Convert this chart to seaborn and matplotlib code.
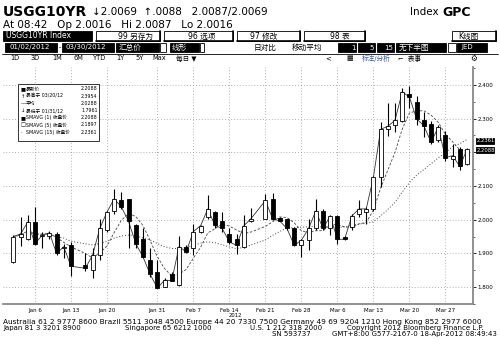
import numpy as np
import pandas as pd
import matplotlib
matplotlib.use("Agg")
import matplotlib.pyplot as plt
import seaborn as sns
from matplotlib.patches import Rectangle

# ---------------- data ----------------
dates = ["2012-01-03", "2012-01-04", "2012-01-05", "2012-01-06", "2012-01-09", "2012-01-10",
         "2012-01-11", "2012-01-12", "2012-01-13", "2012-01-17", "2012-01-18", "2012-01-19",
         "2012-01-20", "2012-01-23", "2012-01-24", "2012-01-25", "2012-01-26", "2012-01-27",
         "2012-01-30", "2012-01-31", "2012-02-01", "2012-02-02", "2012-02-03", "2012-02-06",
         "2012-02-07", "2012-02-08", "2012-02-09", "2012-02-10", "2012-02-13", "2012-02-14",
         "2012-02-15", "2012-02-16", "2012-02-17", "2012-02-21", "2012-02-22", "2012-02-23",
         "2012-02-24", "2012-02-27", "2012-02-28", "2012-02-29", "2012-03-01", "2012-03-02",
         "2012-03-05", "2012-03-06", "2012-03-07", "2012-03-08", "2012-03-09", "2012-03-12",
         "2012-03-13", "2012-03-14", "2012-03-15", "2012-03-16", "2012-03-19", "2012-03-20",
         "2012-03-21", "2012-03-22", "2012-03-23", "2012-03-26", "2012-03-27", "2012-03-28",
         "2012-03-29", "2012-03-30"]
opens = [1.876, 1.948, 1.944, 1.993, 1.952, 1.952, 1.959, 1.915, 1.924, 1.865, 1.851, 1.895,
         1.969, 2.027, 2.059, 2.060, 1.983, 1.944, 1.880, 1.846, 1.800, 1.838, 1.807, 1.920,
         1.915, 1.964, 2.008, 2.023, 1.995, 1.959, 1.942, 1.920, 1.995, 2.003, 2.060, 2.006,
         2.001, 1.974, 1.924, 1.939, 1.974, 2.026, 1.974, 2.011, 1.949, 1.979, 2.018, 2.024,
         2.032, 2.126, 2.270, 2.282, 2.294, 2.373, 2.348, 2.297, 2.285, 2.235, 2.250, 2.180,
         2.211, 2.165]
highs = [1.956, 2.009, 2.013, 2.037, 1.964, 1.966, 1.964, 1.929, 1.935, 1.900, 1.915, 2.003,
         2.027, 2.091, 2.082, 2.062, 1.988, 1.974, 1.915, 1.880, 1.826, 1.846, 1.952, 1.925,
         1.988, 1.985, 2.074, 2.027, 2.024, 1.974, 1.959, 2.013, 2.034, 2.076, 2.079, 2.008,
         2.003, 1.979, 1.944, 2.003, 2.062, 2.032, 2.013, 2.013, 1.952, 2.018, 2.057, 2.037,
         2.130, 2.291, 2.347, 2.347, 2.391, 2.3954, 2.368, 2.318, 2.294, 2.282, 2.263, 2.224,
         2.215, 2.212]
lows = [1.871, 1.923, 1.939, 1.925, 1.915, 1.944, 1.895, 1.885, 1.832, 1.847, 1.826, 1.880,
        1.964, 2.018, 2.032, 1.915, 1.915, 1.885, 1.831, 1.7961, 1.800, 1.817, 1.802, 1.900,
        1.894, 1.962, 2.003, 1.974, 1.965, 1.929, 1.897, 1.915, 1.993, 2.001, 1.998, 1.995,
        1.969, 1.923, 1.890, 1.910, 1.969, 1.969, 1.956, 1.929, 1.940, 1.969, 2.008, 1.988,
        2.027, 2.097, 2.247, 2.259, 2.290, 2.332, 2.282, 2.244, 2.226, 2.230, 2.174, 2.155,
        2.148, 2.163]
closes = [1.950, 1.958, 1.993, 1.929, 1.954, 1.961, 1.900, 1.920, 1.862, 1.856, 1.895, 1.974,
          2.023, 2.062, 2.038, 1.995, 1.929, 1.890, 1.838, 1.797, 1.821, 1.819, 1.920, 1.905,
          1.965, 1.982, 2.032, 1.983, 1.974, 1.934, 1.924, 1.982, 2.003, 2.057, 2.003, 1.996,
          1.974, 1.924, 1.939, 1.974, 2.026, 1.974, 2.011, 1.942, 1.942, 2.011, 2.032, 2.032,
          2.126, 2.268, 2.277, 2.295, 2.379, 2.364, 2.299, 2.279, 2.230, 2.274, 2.184, 2.190,
          2.158, 2.2088]

tick_dates = ["2012-01-06", "2012-01-13", "2012-01-20", "2012-01-31", "2012-02-07", "2012-02-14",
              "2012-02-21", "2012-02-28", "2012-03-06", "2012-03-13", "2012-03-20", "2012-03-27"]
tick_labels = ["Jan 6", "Jan 13", "Jan 20", "Jan 31", "Feb 7", "Feb 14",
               "Feb 21", "Feb 28", "Mar 6", "Mar 13", "Mar 20", "Mar 27"]
y_ticks = [1.8, 1.9, 2.0, 2.1, 2.2, 2.3, 2.4]

legend_names = ["最新价", "最高于 03/20/12", "平均", "最低于 01/31/12",
                "SMAVG (1) 收盘价", "SMAVG (5) 收盘价", "SMAVG (15) 收盘价"]
legend_values = ["2.2088", "2.3954", "2.0288", "1.7961", "2.2088", "2.1897", "2.2361"]
highlight_values = [2.2361, 2.2088]

# ---------------- figure ----------------
sns.set_style("white")
plt.rcParams["font.family"] = ["DejaVu Sans", "Noto Sans CJK SC"]

W, H = 500, 358
fig = plt.figure(figsize=(W / 100, H / 100), dpi=100)
fig.patch.set_facecolor("white")


def fx(x):
    return x / W


def fy(y):
    return 1 - y / H


def T(x, y, s, size=5.5, color="black", ha="left", weight="normal", **kw):
    fig.text(fx(x), fy(y), s, fontsize=size, color=color, ha=ha, va="center",
             weight=weight, **kw)


def box(x0, y0, x1, y1, fc="black", ec="black", lw=0.6, shadow=False):
    fig.patches.append(Rectangle((fx(x0), fy(y1)), fx(x1) - fx(x0), fy(y0) - fy(y1),
                                 transform=fig.transFigure, fc=fc, ec=ec, lw=lw))
    if shadow:
        fig.lines.append(plt.Line2D([fx(x0), fx(x1), fx(x1)], [fy(y1), fy(y1), fy(y0)],
                                    transform=fig.transFigure, color="black", lw=1.2))


# header
T(3, 12, "USGG10YR", size=10, weight="bold")
T(92, 12, "↓2.0069  ↑.0088   2.0087/2.0069", size=7.5)
T(410, 12, "Index", size=7.5)
T(442, 12, "GPC", size=9, weight="bold")
T(3, 25, "At 08:42   Op 2.0016   Hi 2.0087   Lo 2.0016", size=7.5)

# toolbar row 1
box(3, 31, 92, 41)
T(6, 36, "USGG10YR Index", size=5.5, color="white")
box(96, 31, 160, 41, fc="white", shadow=True)
T(118, 36, "99 另存为", size=5.5)
box(164, 31, 233, 41, fc="white", shadow=True)
T(188, 36, "96 选项", size=5.5)
box(237, 31, 300, 41, fc="white", shadow=True)
T(250, 36, "97 修改", size=5.5)
box(304, 31, 365, 41, fc="white", shadow=True)
T(330, 36, "98 表", size=5.5)
box(452, 31, 496, 41, fc="white", shadow=True)
T(458, 36, "K线图", size=5.5)

# toolbar row 2
box(5, 43, 57, 52)
T(9, 47.5, "01/02/2012", size=5, color="white")
T(58.5, 47.5, "-", size=5)
box(62, 43, 114, 52)
T(66, 47.5, "03/30/2012", size=5, color="white")
box(116, 43, 159, 52)
T(119, 47.5, "汇总价", size=5.5, color="white")
box(160, 43, 166, 52, fc="white")
box(170, 43, 199, 52)
T(172, 47.5, "线形", size=5.5, color="white")
box(200, 43, 204, 52, fc="white")
T(254, 47.5, "日对比", size=5.5)
T(292, 47.5, "移动平均", size=5.5)
box(338, 43, 356, 52)
T(351, 47.5, "1", size=5, color="white")
box(358, 43, 375, 52)
T(369, 47.5, "5", size=5, color="white")
box(377, 43, 394, 52)
T(384, 47.5, "15", size=5, color="white")
box(396, 43, 446, 52)
T(399, 47.5, "无下半图", size=5.5, color="white")
box(448, 43, 456, 52, fc="white")
box(457, 43, 487, 52)
T(461, 47.5, "JED", size=5, color="white")
fig.lines.append(plt.Line2D([fx(2), fx(498)], [fy(53.5), fy(53.5)],
                            transform=fig.transFigure, color="black", lw=0.6))

# toolbar row 3
for xx, s in [(10, "1D"), (31, "3D"), (52, "1M"), (73, "6M"), (93, "YTD"),
              (116, "1Y"), (135, "5Y"), (152, "Max"), (176, "每日 ▼")]:
    T(xx, 58.5, s, size=4.8)
T(325, 58.5, "<", size=5)
T(346, 58.5, "▦", size=5)
T(362, 58.5, "标注/分析", size=4.8, color="#3355aa")
T(398, 58.5, "⌐  表事", size=4.8)
T(470, 58.5, "⚙", size=5.5)

# ---------------- price chart ----------------
ax = fig.add_axes([fx(3), fy(304), fx(473) - fx(3), fy(67) - fy(304)])
ax.set_facecolor("white")

pos = np.busday_count("2012-01-02", dates).astype(float)
o = np.array(opens)
h = np.array(highs)
lo = np.array(lows)
c = np.array(closes)

up = c >= o
ax.vlines(pos, lo, h, color="black", lw=0.8, zorder=3)
body_b = np.minimum(o, c)
body_h = np.maximum(np.abs(c - o), 0.003)
ax.bar(pos[up], body_h[up], bottom=body_b[up], width=0.55, color="white",
       edgecolor="black", lw=0.6, zorder=4)
ax.bar(pos[~up], body_h[~up], bottom=body_b[~up], width=0.55, color="black",
       edgecolor="black", lw=0.6, zorder=4)

df = pd.DataFrame({"pos": pos, "close": c})
df["ma5"] = df["close"].rolling(5, min_periods=1).mean()
df["ma15"] = df["close"].rolling(15, min_periods=1).mean()
sns.lineplot(data=df, x="pos", y="close", ax=ax, color="#333333", lw=0.6, zorder=2)
sns.lineplot(data=df, x="pos", y="ma5", ax=ax, color="#444444", lw=0.6,
             linestyle=(0, (3, 2)), zorder=2)
sns.lineplot(data=df, x="pos", y="ma15", ax=ax, color="#444444", lw=0.7,
             linestyle=(0, (1, 2)), zorder=2)

ax.set_xlim(-0.44, 64.83)
ax.set_ylim(1.7559, 2.4529)

tick_pos = np.busday_count("2012-01-02", tick_dates)
ax.set_xticks(tick_pos)
ax.set_xticklabels(tick_labels, fontsize=4.0)
ax.set_xticks(np.arange(0, 65), minor=True)
ax.yaxis.tick_right()
ax.set_yticks(y_ticks)
# the 2.200 label is covered by the price highlight boxes in the reference
ax.set_yticklabels(["" if abs(v - 2.2) < 1e-9 else f"{v:.3f}" for v in y_ticks], fontsize=4.0)
ax.set_yticks(np.arange(1.75, 2.46, 0.05), minor=True)
ax.tick_params(axis="both", which="major", length=2.0, width=0.6, pad=1.0, colors="black")
ax.tick_params(axis="both", which="minor", length=1.2, width=0.5)
ax.set_xlabel("")
ax.set_ylabel("")

for s in ["top", "left"]:
    ax.spines[s].set_visible(False)
for s in ["bottom", "right"]:
    ax.spines[s].set_color("#888888")
    ax.spines[s].set_linewidth(1.3)

for v in y_ticks:
    ax.axhline(v, color="#999999", lw=0.6, linestyle=(0, (1, 2.5)), zorder=0)
for p in tick_pos:
    ax.axvline(p, color="#999999", lw=0.6, linestyle=(0, (1, 2.5)), zorder=0)

T(229, 315.5, "2012", size=3.8)

# price highlights on right axis
for val in highlight_values:
    yy = 153 - (val - 2.2) * 340
    box(476, yy - 2.8, 494, yy + 2.8)
    T(477, yy, f"{val:.4f}", size=3.8, color="white")

# legend box
box(18, 84, 99, 141, fc="white", ec="#333333", lw=0.7)
syms = ["■", "↑", "—", "↓", "■", "□", "·"]
for i, (sym, nm, vv) in enumerate(zip(syms, legend_names, legend_values)):
    yy = 89 + i * 7.2
    T(20.5, yy, sym, size=3.8)
    T(25.5, yy, nm, size=3.4)
    T(97.5, yy, vv, size=3.4, ha="right")

# footer
T(3, 322, "Australia 61 2 9777 8600 Brazil 5511 3048 4500 Europe 44 20 7330 7500 Germany 49 69 9204 1210 "
          "Hong Kong 852 2977 6000", size=5.3)
T(3, 328, "Japan 81 3 3201 8900", size=5.0)
T(125, 328, "Singapore 65 6212 1000", size=5.0)
T(250, 328, "U.S. 1 212 318 2000", size=5.0)
T(484, 328, "Copyright 2012 Bloomberg Finance L.P.", size=5.0, ha="right")
T(272, 334, "SN 593737", size=5.0)
T(497, 334, "GMT+8:00 G577-2167-0 18-Apr-2012 08:49:43", size=5.0, ha="right")

fig.savefig("out.png", dpi=100, facecolor="white")
